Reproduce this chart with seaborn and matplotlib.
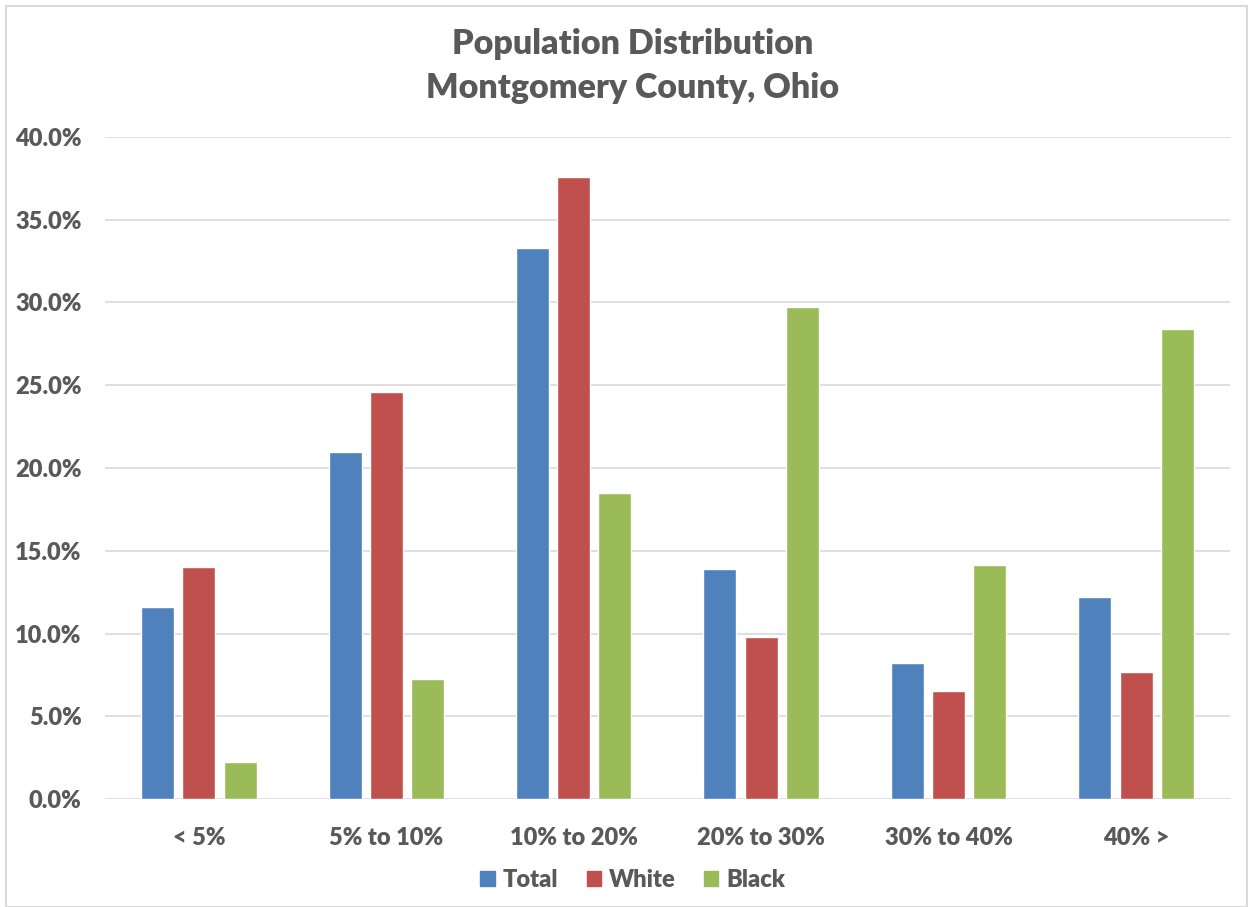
import matplotlib
matplotlib.use('Agg')
import matplotlib.pyplot as plt
import matplotlib.patches as mpatches
from matplotlib.ticker import FuncFormatter
import pandas as pd
import seaborn as sns

# Данные
categories = ['< 5%', '5% to 10%', '10% to 20%', '20% to 30%', '30% to 40%', '40% >']
total = [11.6, 20.95, 33.3, 13.9, 8.2, 12.2]
white = [14.0, 24.6, 37.6, 9.8, 6.5, 7.7]
black = [2.25, 7.25, 18.5, 29.7, 14.15, 28.4]
series = ['Total', 'White', 'Black']
colors = ['#4F81BD', '#C0504D', '#9BBB59']

df = pd.DataFrame({'category': categories, 'Total': total, 'White': white, 'Black': black})
df = df.melt(id_vars='category', var_name='series', value_name='value')

sns.set_theme(style='white')
plt.rcParams['font.family'] = ['Lato', 'DejaVu Sans']
text_color = '#595959'
W = 'heavy'

fig = plt.figure(figsize=(12.51, 9.07), dpi=100)
ax = fig.add_axes([0.084, 0.119, 0.899, 0.730])

sns.barplot(data=df, x='category', y='value', hue='series', hue_order=series,
            order=categories, palette=colors, width=0.66, gap=0.2,
            saturation=1, ax=ax, legend=False)

ax.set_ylim(0, 40)
ax.set_yticks(range(0, 41, 5))
ax.yaxis.set_major_formatter(FuncFormatter(lambda v, _: f'{v:.1f}%'))
ax.set_xlim(-0.5, len(categories) - 0.5)
ax.grid(axis='y', color='#D9D9D9', linewidth=1.2)
ax.set_axisbelow(True)
for s in ax.spines.values():
    s.set_visible(False)
ax.set_xlabel('')
ax.set_ylabel('')
ax.tick_params(axis='both', length=0, labelsize=17, colors=text_color)
ax.tick_params(axis='y', pad=17)
ax.tick_params(axis='x', pad=20)
for lbl in ax.get_xticklabels() + ax.get_yticklabels():
    lbl.set_fontweight(W)

# Заголовок
fig.text(0.506, 0.952, 'Population Distribution', ha='center', va='center',
         fontsize=24.5, fontweight=W, color=text_color)
fig.text(0.506, 0.903, 'Montgomery County, Ohio', ha='center', va='center',
         fontsize=24.5, fontweight=W, color=text_color)

# Легенда
handles = [mpatches.Patch(color=c, label=s) for s, c in zip(series, colors)]
leg = fig.legend(handles=handles, loc='center', bbox_to_anchor=(0.506, 0.030),
                 ncol=3, frameon=False, fontsize=17, handlelength=0.6,
                 handleheight=0.6, handletextpad=0.35, columnspacing=1.2)
for t in leg.get_texts():
    t.set_color(text_color)
    t.set_fontweight(W)

# Рамка вокруг рисунка
fig.patches.append(mpatches.Rectangle((0.005, 0.0), 0.992, 0.993, transform=fig.transFigure,
                                      fill=False, edgecolor='#D9D9D9', linewidth=1.5))

fig.savefig('out.png', dpi=100)
